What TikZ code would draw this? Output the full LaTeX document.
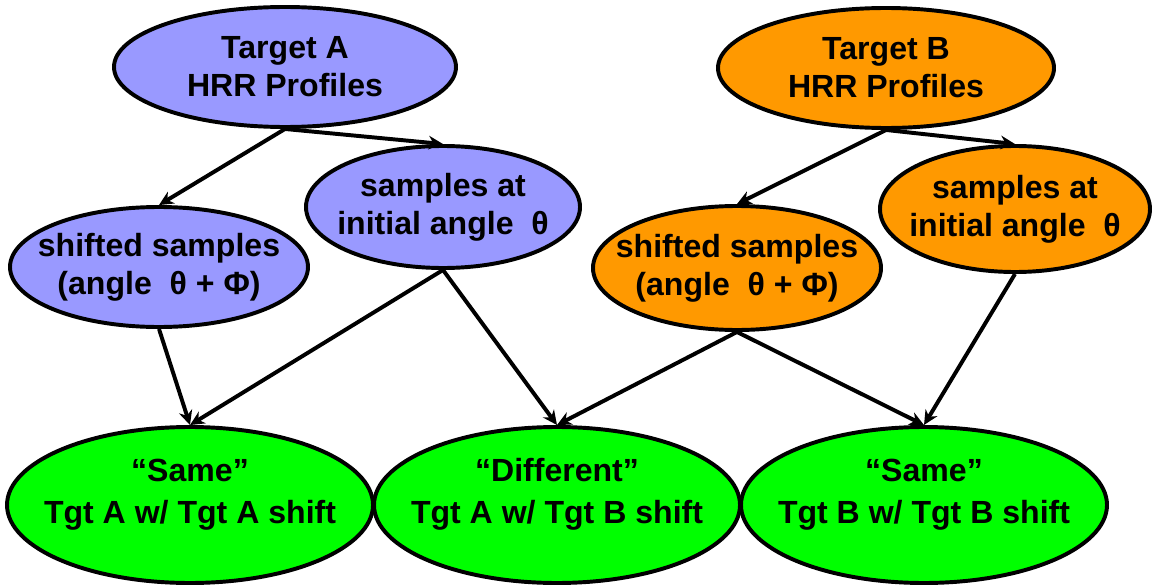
\documentclass[tikz,border=0pt]{standalone}
\usepackage{fontspec}
\setmainfont{Liberation Sans}
\usetikzlibrary{arrows.meta,shapes.geometric}
\definecolor{lav}{HTML}{9999FF}
\definecolor{org}{HTML}{FF9900}
\definecolor{grn}{HTML}{00FF00}
\tikzset{
  oval/.style={ellipse,draw,line width=2.8pt,inner xsep=-2cm,inner ysep=0pt,align=center,
    font=\fontsize{22.8}{27}\selectfont\bfseries},
  tgtA/.style={oval,fill=lav},
  tgtB/.style={oval,fill=org},
  res/.style={oval,fill=grn,minimum width=9.15cm,minimum height=3.9cm,text depth=0.7cm,
    font=\fontsize{22.8}{30}\selectfont\bfseries},
  arr/.style={line width=2.8pt,-{Stealth[length=3.6mm,width=3.4mm]}}
}
\begin{document}
\begin{tikzpicture}[semithick]
\useasboundingbox (0,0) rectangle (28.8,14.65);
% top row
\node[tgtA,minimum width=8.55cm,minimum height=3cm] (TA) at (7.125,12.975) {Target A\\HRR Profiles};
\node[tgtB,minimum width=8.4cm,minimum height=3cm] (TB) at (22.15,12.95) {Target B\\HRR Profiles};
% middle row
\node[tgtA,minimum width=6.85cm,minimum height=3.05cm] (SA) at (11.075,9.475) {samples at\\initial angle \ θ};
\node[tgtA,minimum width=7.45cm,minimum height=3cm] (FA) at (3.975,7.975) {shifted samples\\(angle \ θ + Φ)};
\node[tgtB,minimum width=7.2cm,minimum height=3.1cm] (FB) at (18.425,7.95) {shifted samples\\(angle \ θ + Φ)};
\node[tgtB,minimum width=6.75cm,minimum height=3.15cm] (SB) at (25.375,9.425) {samples at\\initial angle \ θ};
% results
\node[res] (GA) at (4.75,2.025) {“Same”\\Tgt A w/ Tgt A shift};
\node[res] (GD) at (13.925,2.025) {“Different”\\Tgt A w/ Tgt B shift};
\node[res] (GB) at (23.1,2.025) {“Same”\\Tgt B w/ Tgt B shift};
% arrows
\draw[arr](TA.south)--(FA.north);
\draw[arr](TA.south)--(SA.north);
\draw[arr](TB.south)--(FB.north);
\draw[arr](TB.south)--(SB.north);
\draw[arr](FA.south)--(GA.north);
\draw[arr](SA.south)--(GA.north);
\draw[arr](SA.south)--(GD.north);
\draw[arr](FB.south)--(GD.north);
\draw[arr](FB.south)--(GB.north);
\draw[arr](SB.south)--(GB.north);
\end{tikzpicture}
\end{document}
